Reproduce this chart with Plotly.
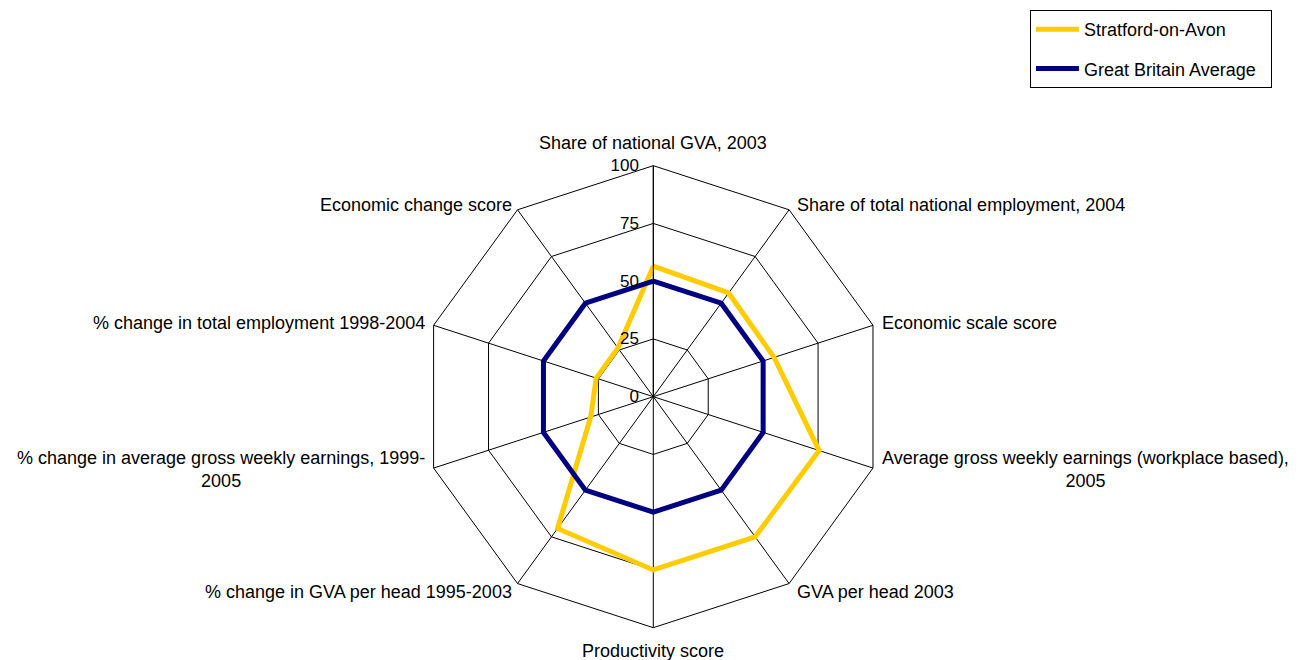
import math
import plotly.graph_objects as go

categories = [
    "Share of national GVA, 2003",
    "Share of total national employment, 2004",
    "Economic scale score",
    "Average gross weekly earnings (workplace based),<br>2005",
    "GVA per head 2003",
    "Productivity score",
    "% change in GVA per head 1995-2003",
    "% change in average gross weekly earnings, 1999-<br>2005",
    "% change in total employment 1998-2004",
    "Economic change score",
]
stratford = [56.5, 55.5, 55, 75.5, 75, 75, 70.5, 28.5, 26, 26]
gb_average = [50, 50, 50, 50, 50, 50, 50, 50, 50, 50]
radial_ticks = [0, 25, 50, 75, 100]

FONT = "Liberation Sans, Arial, sans-serif"
W, H = 1308, 660
DOM_X = [0.3167, 0.6700]
DOM_Y = [0.0611, 0.7611]

def closed(vals):
    return list(vals) + [vals[0]]

fig = go.Figure()
fig.add_trace(go.Scatterpolar(
    r=closed(stratford), theta=closed(categories), mode="lines",
    name="Stratford-on-Avon", line=dict(color="#FFCC00", width=5),
    legendgroup="a",
))
fig.add_trace(go.Scatterpolar(
    r=closed(gb_average), theta=closed(categories), mode="lines",
    name="Great Britain Average\u00a0\u00a0", line=dict(color="#000080", width=5),
    legendgroup="b",
))

# Category labels placed just outside the polygon vertices (Excel-like placement)
cx = (DOM_X[0] + DOM_X[1]) / 2 * W
cy = (1 - (DOM_Y[0] + DOM_Y[1]) / 2) * H
R = (DOM_X[1] - DOM_X[0]) * W / 2
annotations = []
n = len(categories)
for i, label in enumerate(categories):
    a = 2 * math.pi * i / n
    s, c = math.sin(a), math.cos(a)
    vx, vy = cx + R * s, cy - R * c
    diag = abs(c) > 0.5
    dy = -6 * c if c > 0 else -10 * c
    if abs(s) < 0.1:
        xa = "center"
        px, py = vx, vy - 23 * c
    elif s > 0:
        xa = "left"
        px, py = vx + (6 if diag else 7), vy + (dy if diag else -6 * c)
    else:
        xa = "right"
        px, py = vx - (3 if diag else 7), vy + (dy if diag else -6 * c)
    annotations.append(dict(
        x=px / W, y=1 - py / H, xref="paper", yref="paper",
        text=label, showarrow=False, xanchor=xa, yanchor="middle",
        align="center", font=dict(size=18, family=FONT, color="black"),
    ))

fig.update_layout(
    width=W, height=H,
    margin=dict(l=0, r=0, t=0, b=0),
    paper_bgcolor="white",
    font=dict(family=FONT, size=18, color="black"),
    polar=dict(
        domain=dict(x=DOM_X, y=DOM_Y),
        bgcolor="white",
        gridshape="linear",
        angularaxis=dict(
            type="category", categoryarray=categories,
            rotation=90, direction="clockwise",
            showline=True, linecolor="black", linewidth=1,
            gridcolor="black", gridwidth=1,
            ticks="", showticklabels=False,
        ),
        radialaxis=dict(
            range=[0, 100], tickvals=radial_ticks, ticktext=[str(v) for v in radial_ticks],
            angle=90, tickangle=90, side="counterclockwise",
            showline=True, linecolor="black", linewidth=1,
            gridcolor="black", gridwidth=1,
            ticks="outside", ticklen=8, tickcolor="rgba(0,0,0,0)",
            tickfont=dict(size=17, family=FONT, color="black"),
        ),
    ),
    annotations=annotations,
    legend=dict(
        x=0.7813, y=0.997, xanchor="left", yanchor="top",
        bgcolor="white", bordercolor="black", borderwidth=1,
        font=dict(size=18, family=FONT, color="black"),
        traceorder="grouped", tracegroupgap=13, itemwidth=43,
    ),
    showlegend=True,
)

fig.write_html("out.html")
